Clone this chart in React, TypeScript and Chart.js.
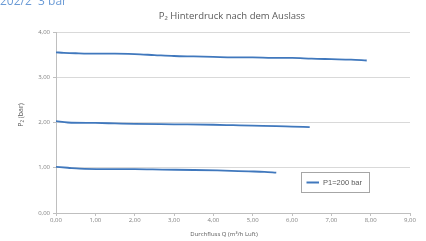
import React, { useEffect, useRef } from "react";
import { Chart, registerables } from "chart.js";

Chart.register(...registerables);

const headerText = "202/2  3 bar";
const chartTitle = "P\u2082 Hinterdruck nach dem Auslass";
const yTitle = "P\u2082 (bar)";
const xTitle = "Durchfluss Q (m\u00B3/h Luft)";
const legendLabel = "P1=200 bar";

const q1 = [0, 0.2, 0.5, 1, 1.5, 2, 2.5, 3, 3.5, 4, 4.5, 5, 5.5, 6, 6.5, 7, 7.5, 7.9];
const p1 = [3.55, 3.54, 3.53, 3.52, 3.52, 3.51, 3.49, 3.47, 3.46, 3.45, 3.44, 3.44, 3.43, 3.43, 3.41, 3.4, 3.39, 3.37];

const q2 = [0, 0.3, 1, 1.5, 2, 3, 4, 4.5, 5, 5.6, 6, 6.45];
const p2 = [2.03, 2.0, 1.99, 1.98, 1.97, 1.96, 1.95, 1.94, 1.93, 1.92, 1.91, 1.9];

const q3 = [0, 0.3, 0.6, 1.2, 2, 2.7, 3.5, 4.1, 4.9, 5.3, 5.6];
const p3 = [1.02, 1.0, 0.98, 0.97, 0.97, 0.96, 0.95, 0.94, 0.92, 0.91, 0.89];

const lineColor = "#4078bd";

const fmt = (v: number) => v.toFixed(2).replace(".", ",");

const textPlugin = {
  id: "texts",
  afterDraw(chart: any) {
    const ctx = chart.ctx as CanvasRenderingContext2D;
    ctx.save();
    // header (cropped at top of picture)
    ctx.fillStyle = "#6b9bd6";
    ctx.font = "12px 'Open Sans'";
    ctx.textAlign = "left";
    ctx.textBaseline = "alphabetic";
    ctx.fillText(headerText, 0, 5);
    // title
    ctx.fillStyle = "#595959";
    ctx.font = "9.5px 'Open Sans'";
    ctx.textAlign = "center";
    ctx.textBaseline = "middle";
    ctx.fillText(chartTitle, 232, 16);
    // x title
    ctx.font = "6px 'Open Sans'";
    ctx.fillText(xTitle, 224, 234);
    // y title
    ctx.save();
    ctx.translate(21, 115);
    ctx.rotate(-Math.PI / 2);
    ctx.font = "7px 'Open Sans'";
    ctx.fillText(yTitle, 0, 0);
    ctx.restore();
    // legend
    ctx.fillStyle = "#ffffff";
    ctx.fillRect(301.5, 172.5, 68, 20);
    ctx.strokeStyle = "#a6a6a6";
    ctx.lineWidth = 1;
    ctx.strokeRect(301.5, 172.5, 68, 20);
    ctx.strokeStyle = lineColor;
    ctx.lineWidth = 2;
    ctx.beginPath();
    ctx.moveTo(306.5, 182.5);
    ctx.lineTo(319, 182.5);
    ctx.stroke();
    ctx.fillStyle = "#595959";
    ctx.font = "7.5px 'Liberation Sans'";
    ctx.textAlign = "left";
    ctx.fillText(legendLabel, 323, 182.5);
    ctx.restore();
  },
};

export default function App() {
  const ref = useRef<HTMLCanvasElement | null>(null);
  useEffect(() => {
    if (!ref.current) return;
    const mk = (q: number[], p: number[]) => q.map((x, i) => ({ x, y: p[i] }));
    const ds = (data: any) => ({
      data,
      borderColor: lineColor,
      borderWidth: 1.8,
      pointRadius: 0,
      cubicInterpolationMode: "monotone",
      fill: false,
    });
    const chart = new Chart(ref.current, {
      type: "line",
      data: {
        datasets: [ds(mk(q1, p1)), ds(mk(q2, p2)), ds(mk(q3, p3))],
      },
      options: {
        animation: false,
        responsive: false,
        maintainAspectRatio: false,
        layout: { padding: { left: 0, right: 16, top: 32, bottom: 0 } },
        plugins: {
          legend: { display: false },
          title: { display: false },
          tooltip: { enabled: false },
        },
        scales: {
          x: {
            type: "linear",
            min: 0,
            max: 9,
            ticks: {
              stepSize: 1,
              callback: (v: any) => fmt(Number(v)),
              font: { size: 6, family: "'Open Sans'" },
              color: "#7f7f7f",
              padding: 1,
              maxRotation: 0,
            },
            grid: {
              drawOnChartArea: false,
              drawTicks: true,
              tickLength: 3,
              tickColor: "#bfbfbf",
            },
            border: { color: "#bfbfbf" },
            afterFit: (s: any) => {
              s.height = 28;
            },
          },
          y: {
            min: 0,
            max: 4,
            ticks: {
              stepSize: 1,
              callback: (v: any) => fmt(Number(v)),
              font: { size: 6, family: "'Open Sans'" },
              color: "#7f7f7f",
              padding: 3,
            },
            grid: {
              color: "#d9d9d9",
              drawTicks: true,
              tickLength: 3,
              tickColor: "#bfbfbf",
            },
            border: { color: "#bfbfbf" },
            afterFit: (s: any) => {
              s.width = 56;
            },
          },
        },
      } as any,
      plugins: [textPlugin],
    });
    return () => chart.destroy();
  }, []);
  return (
    <div style={{ position: "absolute", left: 0, top: 0, width: 426, height: 241, background: "#fff" }}>
      <canvas ref={ref} width={426} height={241} style={{ width: 426, height: 241, display: "block" }} />
    </div>
  );
}
